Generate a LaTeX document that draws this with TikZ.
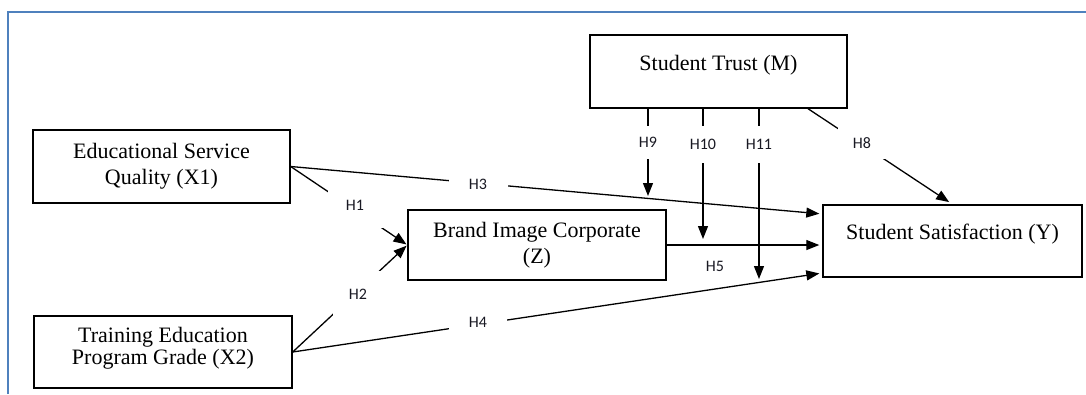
\documentclass[tikz,border=0pt]{standalone}
\usepackage{fontspec}
\setmainfont{Liberation Serif}
\newfontfamily\labfont{Carlito}
\usetikzlibrary{arrows.meta,calc}
\definecolor{frameblue}{RGB}{79,129,189}
\definecolor{labgray}{RGB}{25,25,35}
\begin{document}
\begin{tikzpicture}[x=1pt,y=-1pt,
  box/.style={draw,line width=1.4pt,inner sep=0pt,align=center,font=\fontsize{22}{26}\selectfont},
  conn/.style={line width=1.3pt},
  arr/.style={conn,-{Triangle[length=13pt,width=10pt]}},
  hlab/.style={fill=white,inner sep=0pt,font=\labfont\fontsize{16}{16}\selectfont,text=labgray},
  frame/.style={draw=frameblue,line width=2pt}]
\useasboundingbox (0,0) rectangle (1086,394);
% outer frame
\draw[frame] (8,394) -- (8,12) -- (1086,12);
% boxes
\node[box,minimum width=257pt,minimum height=73pt] (X1) at (161.5,166.5) {Educational Service\\Quality (X1)};
\node[box,minimum width=258pt,minimum height=72pt,font=\fontsize{22}{22}\selectfont] (X2) at (163,352) {Training Education\\Program Grade (X2)\\[-10pt]\mbox{}};
\node[box,minimum width=258pt,minimum height=70pt] (Z) at (537,245) {Brand Image Corporate\\(Z)};
\node[box,minimum width=257pt,minimum height=73pt,text height=14pt,text depth=17pt] (M) at (718.5,71.5) {Student Trust (M)};
\node[box,minimum width=259pt,minimum height=72pt,text height=14pt,text depth=17pt] (Y) at (952.5,241) {Student Satisfaction (Y)};
% moderation target points
\coordinate (t9) at (648,196);
\coordinate (t10) at (703,239);
\coordinate (t11) at (759,279);
% connectors
\draw[arr,shorten >=1pt] (X1.east) -- (Z.west);
\draw[arr,shorten >=1pt] (X2.east) -- (Z.west);
\draw[arr,shorten >=3pt] (X1.east) -- ([yshift=27pt]Y.west);
\draw[arr,shorten >=3pt] (X2.east) -- ([yshift=-32pt]Y.west);
\draw[arr,shorten >=3pt] (Z.east) -- (Z.east -| Y.west);
\draw[arr,shorten >=4pt] ([xshift=89.5pt]M.south) -- (Y.north);
\draw[arr] (M.south -| t9) -- (t9);
\draw[arr] (M.south -| t10) -- (t10);
\draw[arr] (M.south -| t11) -- (t11);
% labels
\node[hlab,minimum width=55pt,minimum height=46pt] (h1) at (355,205) {H1};
\node[hlab,minimum width=50pt,minimum height=46pt] (h2) at (358,294) {H2};
\node[hlab,minimum width=59pt,minimum height=16pt] (h3) at (478,184) {H3};
\node[hlab,minimum width=58pt,minimum height=16pt] (h4) at (478,322) {H4};
\node[hlab,fill=none] (h5) at (715,266) {H5};
\node[hlab,minimum width=48pt,minimum height=32pt] (h8) at (862,143) {H8};
\node[hlab,minimum width=26pt,minimum height=33pt] (h9) at (648,142) {H9};
\node[hlab,minimum width=30pt,minimum height=37pt] (h10) at (703,144) {H10};
\node[hlab,minimum width=30pt,minimum height=37pt] (h11) at (759,144) {H11};
\end{tikzpicture}
\end{document}
